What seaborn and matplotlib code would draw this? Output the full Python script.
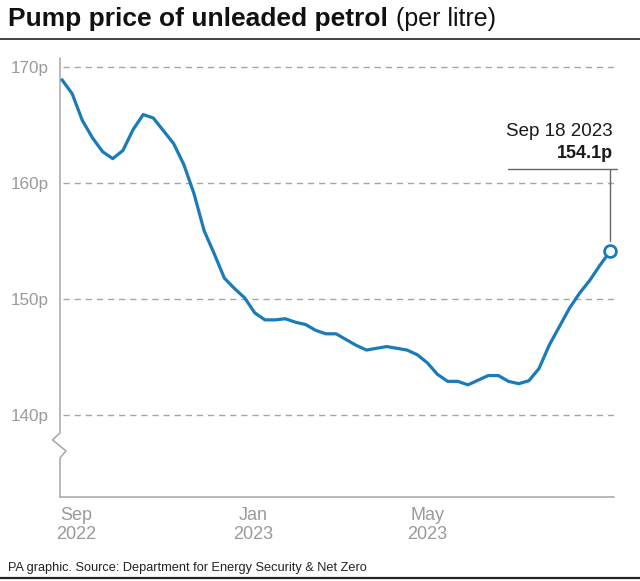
import matplotlib
matplotlib.use("Agg")
import matplotlib.pyplot as plt
import matplotlib.dates as mdates
from matplotlib.lines import Line2D
import seaborn as sns
import pandas as pd
import numpy as np

# ---- data ----
start_date = "2022-09-05"
n_weeks = 55
price = [168.9, 167.7, 165.4, 163.9, 162.7, 162.1, 162.8, 164.6, 165.9, 165.6,
         164.5, 163.4, 161.6, 159.1, 155.9, 153.9, 151.8, 150.9, 150.1, 148.8,
         148.2, 148.2, 148.3, 148.0, 147.8, 147.3, 147.0, 147.0, 146.5, 146.0,
         145.6, 145.75, 145.9, 145.75, 145.6, 145.2, 144.5, 143.5, 142.9, 142.9,
         142.6, 143.0, 143.4, 143.4, 142.9, 142.7, 142.95, 144.0, 146.0, 147.6,
         149.2, 150.5, 151.6, 152.9, 154.1]
y_ticks = [140, 150, 160, 170]
y_tick_labels = ["140p", "150p", "160p", "170p"]
x_tick_dates = ["2022-09-15", "2023-01-15", "2023-05-15"]
x_tick_labels = ["Sep\n2022", "Jan\n2023", "May\n2023"]
title_bold = "Pump price of unleaded petrol"
title_light = "(per litre)"
source = "PA graphic. Source: Department for Energy Security & Net Zero"
annot_date = "Sep 18 2023"

dates = pd.date_range(start_date, periods=n_weeks, freq="7D")
df = pd.DataFrame({"date": dates, "price": price})

sns.set_theme(style="white")
plt.rcParams["font.family"] = ["Liberation Sans", "DejaVu Sans"]

BLUE = "#1a7bb9"
GREY = "#a6a6a6"
TICKC = "#9a9a9a"

W, H = 640, 581
fig = plt.figure(figsize=(6.4, 5.81), dpi=100)
ax = fig.add_axes([60 / W, 1 - 497 / H, 554 / W, (497 - 58) / H])

sns.lineplot(data=df, x="date", y="price", ax=ax, color=BLUE, linewidth=2.3,
             zorder=3)
last_x, last_y = dates[-1], price[-1]
ax.plot([last_x], [last_y], marker="o", ms=8.5, mfc="white", mec=BLUE,
        mew=2, zorder=5, clip_on=False)

pxday = 548 / 378.0
ax.set_xlim(dates[0] - pd.Timedelta(days=2 / pxday),
            dates[-1] + pd.Timedelta(days=4 / pxday))
ax.set_ylim(140 - 82 / 11.6, 170 + 9 / 11.6)

ax.set_yticks(y_ticks)
ax.set_yticklabels(y_tick_labels)
ax.set_xticks(pd.to_datetime(x_tick_dates))
ax.set_xticklabels(x_tick_labels, linespacing=1.15)
ax.tick_params(axis="y", length=0, pad=8, labelsize=12.3, labelcolor=TICKC)
ax.tick_params(axis="x", length=0, pad=7, labelsize=13, labelcolor=TICKC)
ax.set_xlabel("")
ax.set_ylabel("")

for t in y_ticks:
    ax.axhline(t, color=GREY, lw=1, linestyle=(0, (4.5, 3.5)), zorder=1,
               xmin=3 / 554)

for s in ["top", "right", "left"]:
    ax.spines[s].set_visible(False)
ax.spines["bottom"].set_color(GREY)
ax.spines["bottom"].set_linewidth(1.1)

# left axis with break
ytr = ax.get_yaxis_transform()
dx = 1 / 554
ax.plot([0, 0, -7.5 * dx, 6 * dx, 0, 0],
        [170 + 9 / 11.6, 138.45, 137.85, 136.9, 136.3, 140 - 82 / 11.6],
        transform=ytr, color=GREY, lw=1.1, clip_on=False, zorder=2)

# annotation
def v(ypx):
    return 170 - (ypx - 67) / 11.6

top_v = v(169)
ax.plot([last_x, last_x], [top_v, v(241)], color="#666666", lw=1, zorder=2,
        clip_on=False)
ax.plot([last_x - pd.Timedelta(days=102 / pxday), last_x + pd.Timedelta(days=7 / pxday)],
        [top_v, top_v], color="#666666", lw=1, zorder=2, clip_on=False)
ax.text(last_x + pd.Timedelta(days=3 / pxday), v(131.5), annot_date,
        ha="right", va="center", fontsize=13.5, color="#1a1a1a", clip_on=False)
ax.text(last_x + pd.Timedelta(days=3 / pxday), v(153.5), f"{last_y:.1f}p",
        ha="right", va="center", fontsize=13, fontweight="bold",
        color="#1a1a1a", clip_on=False)

# title
t1 = fig.text(8 / W, 1 - 26 / H, title_bold, fontsize=19, fontweight="bold",
              color="#111111", ha="left", va="baseline")
r = fig.canvas.get_renderer()
bb = t1.get_window_extent(renderer=r)
fig.text((bb.x1 + 8) / W, 1 - 26 / H, title_light, fontsize=18,
         color="#111111", ha="left", va="baseline")
fig.add_artist(Line2D([0, 1], [1 - 38.5 / H, 1 - 38.5 / H], color="#333333",
                      lw=1.3, transform=fig.transFigure))

# footer
fig.text(8 / W, 1 - 570.5 / H, source, fontsize=9.2, color="#222222",
         ha="left", va="baseline")
fig.add_artist(Line2D([0, 1], [1 - 577.5 / H, 1 - 577.5 / H], color="#222222",
                      lw=1.6, transform=fig.transFigure))

fig.savefig("out.png", dpi=100)
